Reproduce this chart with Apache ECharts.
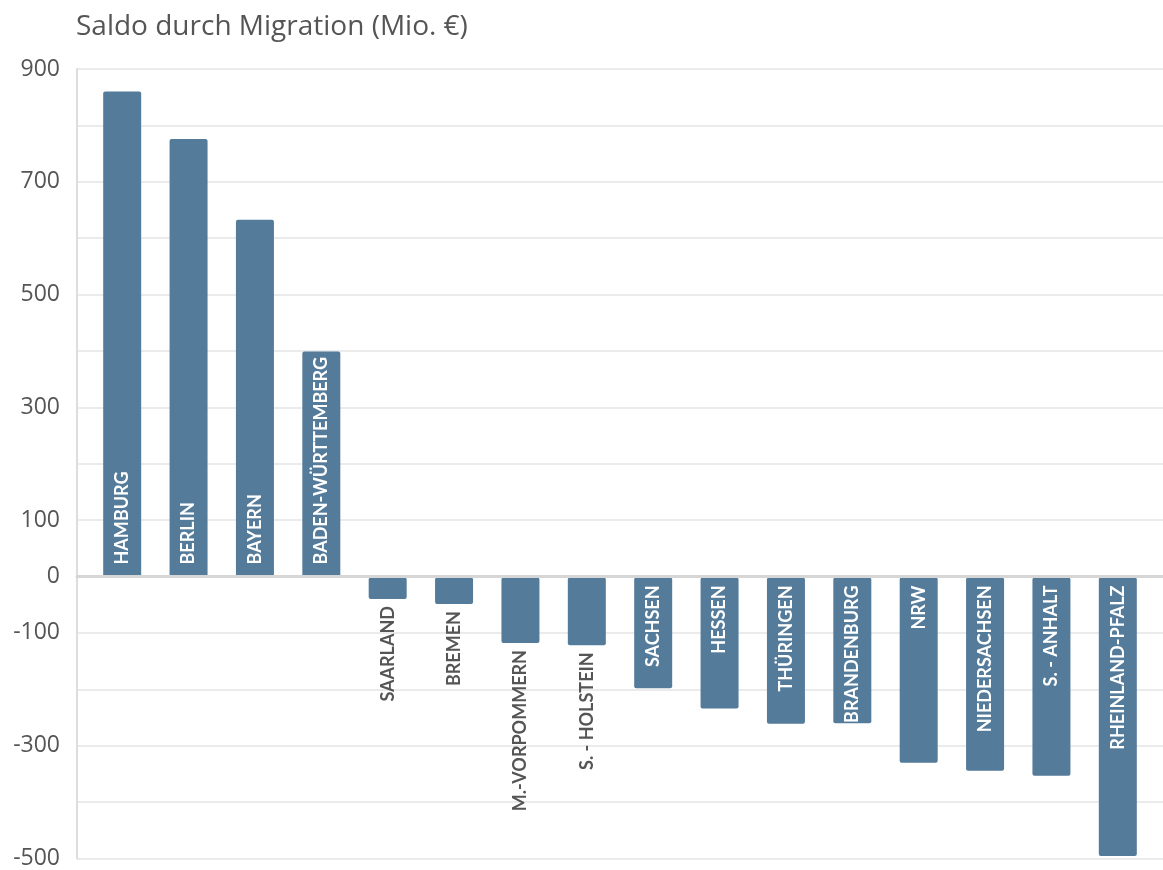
<!DOCTYPE html>
<html>
<head>
<meta charset="utf-8">
<script src="https://cdn.jsdelivr.net/npm/echarts@6/dist/echarts.min.js"></script>
<style>
  html, body { margin: 0; padding: 0; background: #ffffff; }
  #chart { width: 1163px; height: 870px; }
</style>
</head>
<body>
<div id="chart"></div>
<script>
const titleText = 'Saldo durch Migration (Mio. €)';
const categories = ['HAMBURG', 'BERLIN', 'BAYERN', 'BADEN-WÜRTTEMBERG', 'SAARLAND', 'BREMEN',
  'M.-VORPOMMERN', 'S. - HOLSTEIN', 'SACHSEN', 'HESSEN', 'THÜRINGEN', 'BRANDENBURG',
  'NRW', 'NIEDERSACHSEN', 'S. - ANHALT', 'RHEINLAND-PFALZ'];
const values = [860, 776, 633, 400, -38, -47, -116, -120, -196, -232, -259, -258, -328, -342, -351, -493];
const yMin = -500, yMax = 900, yStep = 100;

const TEXT_FONT = '"Open Sans", Lato, sans-serif';
const LABEL_FONT = 'Lato, "Open Sans", sans-serif';
const BAR = '#557b9b';

const data = values.map(function (v) {
  const inside = Math.abs(v) > 150;
  let label;
  if (v >= 0) {
    label = { position: 'insideBottom', distance: 13, align: 'left', color: '#ffffff' };
  } else if (inside) {
    label = { position: 'insideTop', distance: 8, align: 'right', color: '#ffffff' };
  } else {
    label = { position: 'bottom', distance: 7, align: 'right', color: '#555555' };
  }
  return { value: v, label: label };
});

const chart = echarts.init(document.getElementById('chart'), null, { renderer: 'canvas' });
chart.setOption({
  backgroundColor: '#ffffff',
  animation: false,
  title: {
    text: titleText,
    left: 71, top: 8,
    textStyle: { fontFamily: TEXT_FONT, fontSize: 28, fontWeight: 'normal', color: '#555555' }
  },
  grid: [
    { left: 77, right: 0, top: 69, bottom: 10 },
    { left: 89, right: 12, top: 69, bottom: 10 }
  ],
  xAxis: [
    {
      gridIndex: 0, type: 'value', min: 0, max: 1, z: 10,
      axisLine: { show: true, onZero: true, lineStyle: { color: '#d6d6d6', width: 3 } },
      axisTick: { show: false }, axisLabel: { show: false }, splitLine: { show: false }
    },
    {
      gridIndex: 1, type: 'category', data: categories, show: false
    }
  ],
  yAxis: [
    {
      gridIndex: 0, type: 'value', min: yMin, max: yMax, interval: yStep,
      axisLine: { show: true, lineStyle: { color: '#dddddd', width: 2 } },
      axisTick: { show: false },
      splitLine: { show: true, lineStyle: { color: '#e4e4e4', width: 1.5 } },
      axisLabel: {
        margin: 17, fontFamily: TEXT_FONT, fontSize: 23, fontWeight: 'normal', color: '#555555',
        formatter: function (v) {
          return (v === 0 || Math.abs(v % 200) === 100) ? String(v) : '';
        }
      }
    },
    {
      gridIndex: 1, type: 'value', min: yMin, max: yMax, interval: yStep, show: false,
      splitLine: { show: false }
    }
  ],
  series: [{
    type: 'bar',
    xAxisIndex: 1, yAxisIndex: 1,
    barWidth: 38,
    data: data,
    itemStyle: { color: BAR, borderRadius: 2 },
    label: {
      show: true,
      formatter: function (p) { return p.name; },
      rotate: 90,
      verticalAlign: 'middle',
      fontFamily: LABEL_FONT, fontSize: 18, fontWeight: 'bold'
    }
  }]
});
</script>
</body>
</html>
